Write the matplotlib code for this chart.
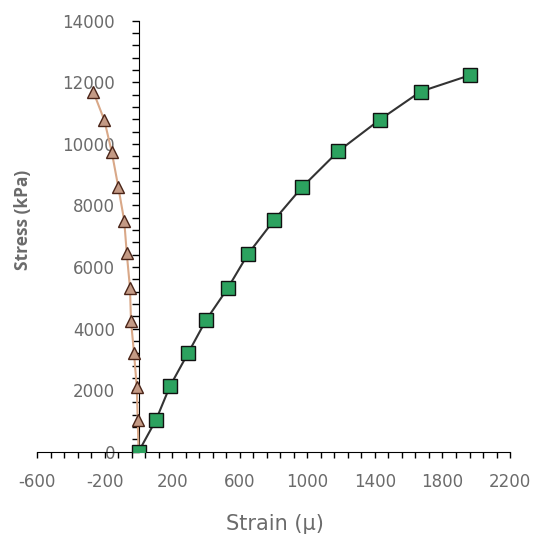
import matplotlib
matplotlib.use('Agg')
import matplotlib.pyplot as plt
from matplotlib.ticker import MultipleLocator, FixedLocator

plt.rcParams['font.family'] = ['DejaVu Sans']
plt.rcParams['axes.unicode_minus'] = False

# data
stress = [0, 1030, 2130, 3220, 4270, 5310, 6420, 7520, 8590, 9760, 10790, 11700, 12230]
strain_axial = [0, 103, 186, 295, 399, 528, 648, 802, 968, 1183, 1430, 1671, 1963]
stress_lat = [0, 1030, 2110, 3200, 4250, 5320, 6440, 7500, 8590, 9740, 10770, 11690]
strain_lat = [0, -5, -11, -27, -45, -51, -70, -85, -120, -159, -203, -268]

grey = '#6b6b6b'

fig = plt.figure(figsize=(5.38, 5.38), dpi=100)
ax = fig.add_axes([0.0693, 0.1604, 0.8787, 0.8011])

ax.plot(strain_lat, stress_lat, color='#d9a888', lw=1.5, marker='^', ms=9,
        mfc='#c49a85', mec='#4a2418', mew=1, zorder=3)
ax.plot(strain_axial, stress, color='#333333', lw=1.5, marker='s', ms=9.5,
        mfc='#2ca25f', mec='#111111', mew=1, zorder=4)

ax.set_xlim(-600, 2200)
ax.set_ylim(0, 14000)
ax.set_xticks(range(-600, 2201, 400))
ax.xaxis.set_minor_locator(FixedLocator(range(-600, 2201, 80)))
ax.yaxis.set_major_locator(MultipleLocator(2000))
ax.yaxis.set_minor_locator(MultipleLocator(400))

for s in ['top', 'right']:
    ax.spines[s].set_visible(False)
ax.spines['left'].set_position(('data', 0))
ax.spines['left'].set_color('black')
ax.spines['bottom'].set_color('black')

ax.tick_params(which='both', direction='out', width=1, color='black')
ax.tick_params(axis='x', which='both', length=4)
ax.tick_params(axis='y', which='both', length=5)
ax.tick_params(axis='both', which='major', labelsize=12, labelcolor=grey)
ax.tick_params(axis='x', which='major', pad=11)
ax.tick_params(axis='y', which='major', pad=12)

fig.text(0.511, 0.0149, 'Strain (μ)', ha='center', va='baseline', fontsize=15, color=grey)
fig.text(0.043, 0.591, 'Stress (kPa)', ha='center', va='center', rotation=90,
         fontsize=12.5, color=grey, fontweight='bold', family='Open Sans')

fig.savefig('out.png', dpi=100)
